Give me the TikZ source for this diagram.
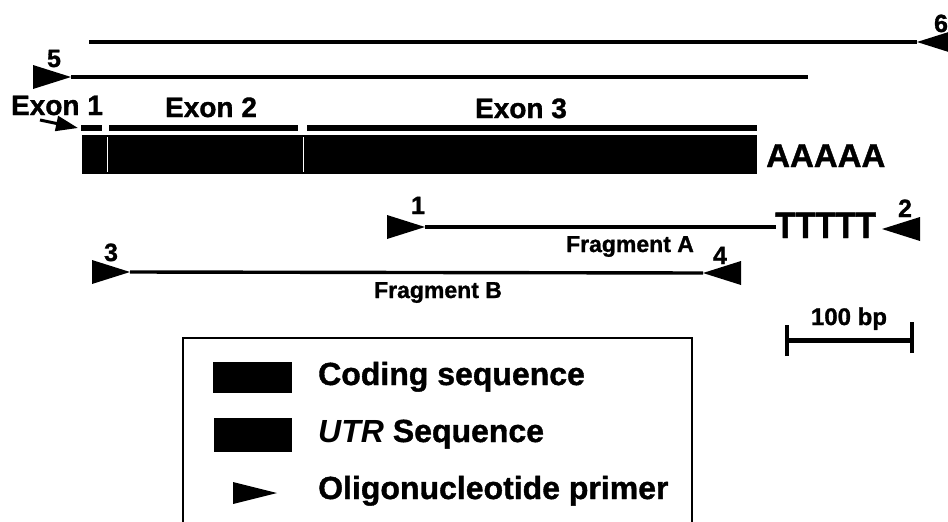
\documentclass[tikz,border=0pt]{standalone}
\usepackage{fontspec}
\setmainfont{Liberation Sans}[BoldFeatures={FakeBold=1.2}]
\usetikzlibrary{arrows.meta}
\begin{document}
\begin{tikzpicture}[x=1pt,y=-1pt,
  lbl/.style={font=\bfseries\fontsize{#1}{#1}\selectfont, inner sep=0pt},
  dna/.style={line width=3.4pt},
  exonbar/.style={line width=5.5pt},
  primerL/.pic={\fill (0,0) -- (-38,-12) -- (-38,12) -- cycle;},
  primerR/.pic={\fill (0,0) -- (38,-12) -- (38,12) -- cycle;}]
\useasboundingbox (0,0) rectangle (948,522);
\clip (0,0) rectangle (948,522);

% full-length transcript products (primers 6 and 5)
\coordinate (l6a) at (89,42);
\coordinate (p6) at (917,42);
\draw[dna] (l6a) -- (p6);
\pic at (p6) {primerR};
\node[lbl=25, anchor=base] (n6) at (941,32) {6};

\coordinate (p5) at (71,77);
\coordinate (l5b) at (808,77);
\pic at (p5) {primerL};
\draw[dna] (p5) -- (l5b);
\node[lbl=25, anchor=base] (n5) at (54,67) {5};

% exon labels and extents
\node[lbl=28, anchor=base] (ex1) at (57,115) {Exon 1};
\node[lbl=28, anchor=base] (ex2) at (211,117) {Exon 2};
\node[lbl=28, anchor=base] (ex3) at (521,118) {Exon 3};
\coordinate (arrA) at (40,120);
\coordinate (arrB) at (78,128);
\draw[line width=3pt, -{Triangle[length=22pt,width=15pt]}] (arrA) -- (arrB);
\draw[exonbar] (81,128) -- (102,128);
\draw[exonbar] (109,128) -- (298,128);
\draw[exonbar] (307,128) -- (757,128);

% mRNA body
\fill (82,135) rectangle (757,174);
\draw[white, line width=0.6pt] (107,137) -- (107,172);
\draw[white, line width=0.6pt] (303,137) -- (303,172);
\node[lbl=33, anchor=base west] (polyA) at (766,167) {AAAAA};

% fragment A (primers 1 and 2)
\coordinate (p1) at (425,227);
\coordinate (lAb) at (776,227);
\pic at (p1) {primerL};
\draw[dna] (p1) -- (lAb);
\node[lbl=25, anchor=base] (n1) at (418,214) {1};
\node[lbl=33, anchor=base west, yscale=1.12] (polyT) at (775,238) {TTTTT};
\coordinate (p2) at (882,229);
\pic at (p2) {primerR};
\node[lbl=25, anchor=base] (n2) at (905,217) {2};
\node[lbl=23, anchor=base] (fa) at (630,252) {Fragment A};

% fragment B (primers 3 and 4)
\coordinate (p3) at (130,272);
\coordinate (p4) at (703,273);
\pic at (p3) {primerL};
\draw[dna] (p3) -- (p4);
\pic at (p4) {primerR};
\node[lbl=25, anchor=base] (n3) at (111,261) {3};
\node[lbl=25, anchor=base] (n4) at (720,264) {4};
\node[lbl=23, anchor=base] (fb) at (438,298) {Fragment B};

% scale bar
\node[lbl=24, anchor=base] (bp) at (849,325) {100 bp};
\coordinate (sbL) at (787,340);
\coordinate (sbR) at (912,340);
\draw[line width=5pt] (sbL) -- (sbR);
\draw[line width=4pt] ([yshift=-16]sbL) -- ([yshift=15]sbL);
\draw[line width=4pt] ([yshift=-13]sbR) -- ([yshift=18]sbR);

% legend
\draw[line width=2.5pt] (183,338) rectangle (692,540);
\fill (213,362) rectangle (292,393);
\node[lbl=32, anchor=base west] (lg1) at (318,385) {Coding sequence};
\fill (214,418) rectangle (292,452);
\node[lbl=32, anchor=base west] (lg2) at (318,442) {\itshape UTR\/\upshape{} Sequence};
\coordinate (lgp) at (277,493);
\fill (lgp) -- ++(-44,-11) -- ++(0,22) -- cycle;
\node[lbl=32, anchor=base west] (lg3) at (318,499) {Oligonucleotide primer};
\end{tikzpicture}
\end{document}
